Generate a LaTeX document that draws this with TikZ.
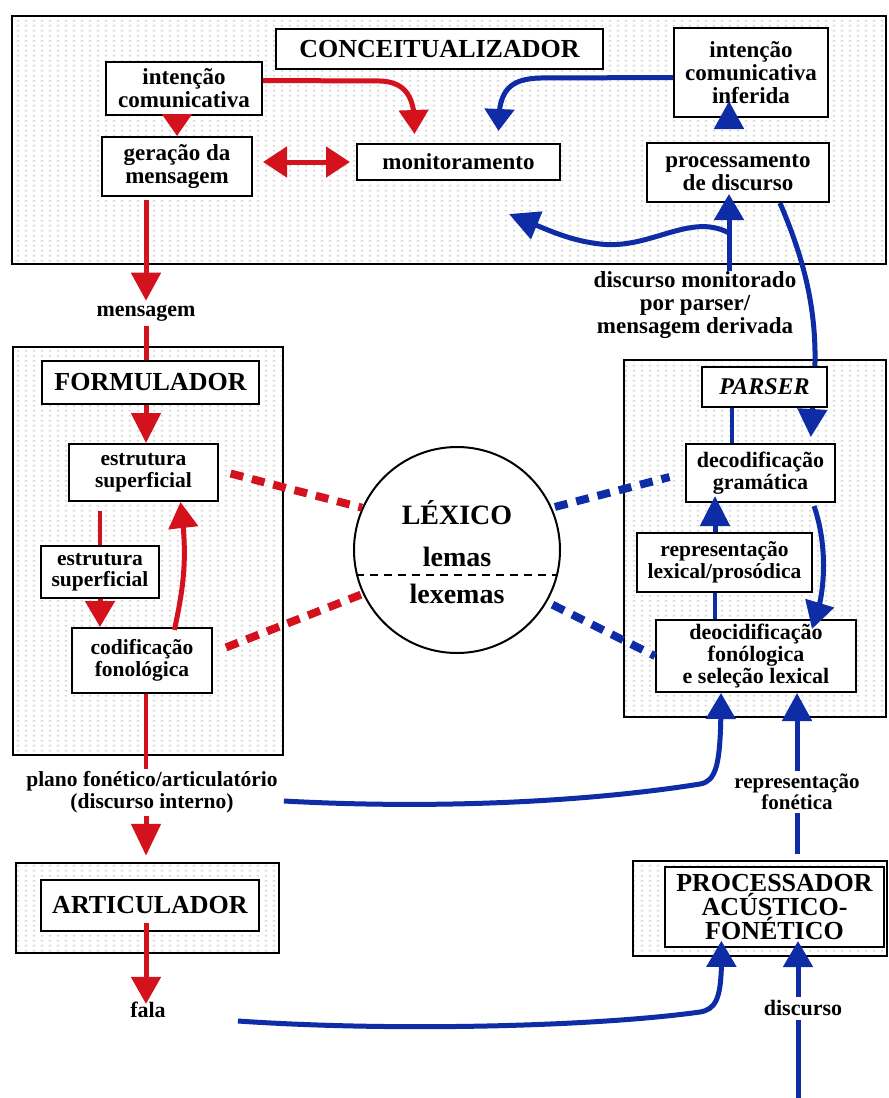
\documentclass[tikz,border=0pt]{standalone}
\usepackage{fontspec}
\setmainfont{Liberation Serif}
\usetikzlibrary{arrows.meta,calc,patterns,bending}

\pgfdeclarelayer{bg}
\pgfdeclarelayer{links}
\pgfsetlayers{bg,links,main}

\definecolor{cred}{RGB}{212,18,30}
\definecolor{cblue}{RGB}{14,44,166}

% light stippled texture of the module frames
\pgfdeclarepatternformonly{stipple}{\pgfpointorigin}{\pgfpoint{8pt}{5pt}}{\pgfpoint{8pt}{5pt}}{%
  \pgfpathrectangle{\pgfpoint{1pt}{2pt}}{\pgfpoint{2.6pt}{1.1pt}}\pgfusepath{fill}}

\newcommand\lblfont[1]{\bfseries\fontsize{#1}{#1}\selectfont}

\tikzset{
  frame/.style={draw, line width=2.5pt, pattern=stipple, pattern color=black!24, inner sep=0pt},
  box/.style={draw, line width=2pt, fill=white, inner sep=0pt, align=center, font=\lblfont{#1}},
  box/.default=22,
  title/.style={draw, line width=2pt, fill=white, inner sep=0pt, align=center,
    font=\bfseries\fontsize{26}{22}\selectfont},
  txt/.style={inner sep=0pt, align=center, font=\lblfont{#1}},
  txt/.default=22,
  rline/.style={cred, line width=5pt},
  rarr/.style={rline, -{Triangle[length=#1,width=29pt]}},
  rarr/.default=28pt,
  bline/.style={cblue, line width=5pt},
  barr/.style={bline, -{Triangle[length=#1,width=29pt]}},
  barr/.default=28pt,
  rdash/.style={cred, line width=8pt, dash pattern=on 13pt off 9pt},
  bdash/.style={cblue, line width=8pt, dash pattern=on 13pt off 9pt},
}

\begin{document}
\begin{tikzpicture}[x=1pt,y=-1pt]
\useasboundingbox (0,0) rectangle (889,1098);

% ---------- module frames ----------
\begin{pgfonlayer}{bg}
  \fill[white] (0,0) rectangle (889,1098);
  \node[frame, minimum width=874pt, minimum height=248pt] (concF) at (449,140) {};
  \node[frame, minimum width=270pt, minimum height=408pt] (formF) at (148,551) {};
  \node[frame, minimum width=263pt, minimum height=90pt]  (artF)  at (147.5,908) {};
  \node[frame, minimum width=262pt, minimum height=357pt] (parF)  at (755,538.5) {};
  \node[frame, minimum width=254pt, minimum height=95pt]  (procF) at (760,908.5) {};
\end{pgfonlayer}

% ---------- conceitualizador ----------
\node[title, minimum width=327pt, minimum height=40pt] (ct) at (439.5,49) {CONCEITUALIZADOR};
\node[box=23, minimum width=156pt, minimum height=53pt] (ic)  at (184,88.5) {intenção\\comunicativa};
\node[box=23, minimum width=150pt, minimum height=59pt] (gm)  at (177,166.5) {geração da\\mensagem};
\node[box=23, minimum width=203pt, minimum height=36pt] (mon) at (458.5,162) {monitoramento};
\node[box=23, minimum width=154pt, minimum height=89pt] (inf) at (751,72.5) {intenção\\comunicativa\\inferida};
\node[box=23, minimum width=182pt, minimum height=59pt] (pd)  at (738,172.5) {processamento\\de discurso};

% ---------- formulador ----------
\node[title, minimum width=217pt, minimum height=43pt] (fm)  at (150.5,382.5) {FORMULADOR};
\node[box=21.5, minimum width=149pt, minimum height=57pt] (es1) at (143.5,472.5) {estrutura\\superficial};
\node[box=21.5, minimum width=118pt, minimum height=52pt] (es2) at (100,572) {estrutura\\superficial};
\node[box=21.5, minimum width=140pt, minimum height=65pt] (cod) at (142,660.5) {codificação\\fonológica};

% ---------- articulador ----------
\node[title, minimum width=218pt, minimum height=51pt] (art) at (150,905.5) {ARTICULADOR};

% ---------- parser ----------
\node[box, minimum width=125pt, minimum height=40pt, font=\bfseries\itshape\fontsize{24}{24}\selectfont] (par) at (764.5,387) {PARSER};
\node[box, minimum width=149pt, minimum height=58pt] (dg)  at (760.5,473) {decodificação\\gramática};
\node[box=21.5, minimum width=175pt, minimum height=59pt] (rep) at (724.5,562.5) {representação\\lexical/prosódica};
\node[box, minimum width=200pt, minimum height=72pt] (deo) at (756,656) {deocidificação\\fonólogica\\e seleção lexical};

% ---------- processador ----------
\node[title, minimum width=219pt, minimum height=80pt] (proc) at (774.5,907) {PROCESSADOR\\ACÚSTICO-\\FONÉTICO};

% ---------- léxico ----------
\node[circle, draw, line width=2pt, fill=white, minimum size=206pt, inner sep=0pt] (lex) at (457,550) {};
\node[txt=28] (lexT) at (457,513) {LÉXICO};
\node[txt=28] (lexA) at (457,557) {lemas};
\node[txt=28] (lexB) at (457,594) {lexemas};
\draw[line width=1.5pt, dash pattern=on 8pt off 6pt] (lex.194) -- (lex.-14);

% ---------- free labels ----------
\node[txt] (msg) at (146,313) {mensagem};
\node[txt=21.5] (pl) at (152,792) {plano fonético/articulatório\\(discurso interno)};
\node[txt] (fala) at (148,1010) {fala};
\node[txt=23] (dm) at (695,305) {discurso monitorado\\por parser/\\mensagem derivada};
\node[txt=21] (rf) at (797,792) {representação\\fonética};
\node[txt] (disc) at (803,1008) {discurso};

\coordinate (fork) at (729,233);
\coordinate (vx3) at (732,0);
\coordinate (vx4) at (715,0);
\coordinate (vx5) at (798,0);
\coordinate (bottomEnd) at (798,1098);

% ---------- production (red) ----------
\draw[rarr=22pt] (ic.south -| gm.north) -- (gm.north);
\draw[rarr=24pt] ([yshift=8pt]ic.east) -- (380,81) .. controls (408,82) and (416,100) .. ([xshift=-44pt,yshift=9pt]mon.north);
\draw[rline, {Triangle[length=24pt,width=30pt]}-{Triangle[length=24pt,width=30pt]}, shorten <=10pt, shorten >=6pt]
  (gm.east |- mon.west) -- (mon.west);
\draw[rarr, shorten <=3pt, shorten >=4pt] (gm.south -| msg.north) -- (msg.north);
\draw[rline, shorten <=5pt] (msg.south) -- (msg.south |- fm.north);
\draw[rarr=30pt] (fm.south -| msg.south) -- (es1.north -| msg.south);
\draw[rline, line width=4.5pt, shorten <=9pt] (es1.south -| es2.north) -- (es2.north);
\draw[rarr=26pt] (es2.south) -- (cod.north -| es2.south);
\draw[rarr=26pt, shorten <=-3pt] ([xshift=33pt]cod.north) to[bend right=10] ([xshift=37pt]es1.south);
\draw[rline, line width=4.5pt, shorten >=2pt] (cod.south -| msg.south) -- (pl.north -| msg.south);
\draw[rarr=32pt, shorten <=3pt, shorten >=6pt] (pl.south -| msg.south) -- (artF.north -| msg.south);
\draw[rarr=27pt, shorten <=-9pt, shorten >=-2pt] (art.south -| msg.south) -- (fala.north -| msg.south);

% ---------- lexical access (dashed) ----------
\draw[rdash, shorten <=12pt] ([yshift=2pt]es1.east) -- (lex.156);
\draw[rdash, shorten <=14pt, shorten >=2pt] ([yshift=8pt]cod.east) -- (lex.205);
\draw[bdash, shorten <=3pt, shorten >=16pt] (lex.24) -- (dg.west);
\draw[bdash, shorten <=6pt] (lex.-30) -- (deo.west);

% ---------- comprehension (blue) ----------
\draw[barr=26pt, shorten >=-7pt] ([xshift=72pt,yshift=-11pt]fala.east)
  .. controls (400,1032) and (600,1026) .. (700,1012)
  .. controls (718,1009) and (722,995) .. ([xshift=-53pt]proc.south);
\draw[barr=26pt] ([xshift=6pt,yshift=-9pt]pl.east)
  .. controls (450,810) and (600,800) .. (700,784)
  .. controls (718,781) and (721,760) .. ([xshift=-35pt]deo.south);
\draw[bline, shorten <=6pt, shorten >=3pt] (procF.north -| rf.south) -- (rf.south);
\draw[barr=28pt, shorten <=3pt] (rf.north) -- (deo.south -| rf.north);
\draw[bline, shorten >=4pt] (bottomEnd) -- (disc.south -| bottomEnd);
\draw[barr=26pt, shorten <=3pt, shorten >=-7pt] (disc.north -| vx5) -- (proc.south -| vx5);

\draw[bline, line width=4pt] (par.south -| vx3) -- (dg.north -| vx3);
\draw[barr=27pt] ([xshift=-22pt,yshift=-3pt]dg.south east) .. controls (826,540) and (828,590) .. ([xshift=56pt,yshift=-10pt]deo.north);
\draw[barr=30pt, shorten >=-7pt] (rep.north -| vx4) -- (dg.south -| vx4);
\draw[bline, line width=4pt] (deo.north -| vx4) -- (rep.south -| vx4);

\begin{pgfonlayer}{links}
  \draw[barr=28pt, shorten >=6pt] ([xshift=42pt]pd.south) .. controls (800,250) and (816,300) .. (815,362) -- ([xshift=50pt]dg.north);
\end{pgfonlayer}

\draw[barr=26pt, shorten >=-9pt] (dm.north -| fork) -- (pd.south -| fork);
\draw[barr=30pt] (fork) .. controls (690,212) and (650,250) .. (600,244)
  .. controls (565,240) and (540,226) .. ($(mon.south east)+(-52,33)$);
\draw[barr=28pt, shorten <=15pt, shorten >=-17pt] (pd.north -| fork) -- (inf.south -| fork);
\draw[barr=22pt] ([yshift=-5pt]inf.west) -- (540,78) .. controls (505,79) and (498,95) .. ([xshift=40pt,yshift=12pt]mon.north);

\end{tikzpicture}
\end{document}
